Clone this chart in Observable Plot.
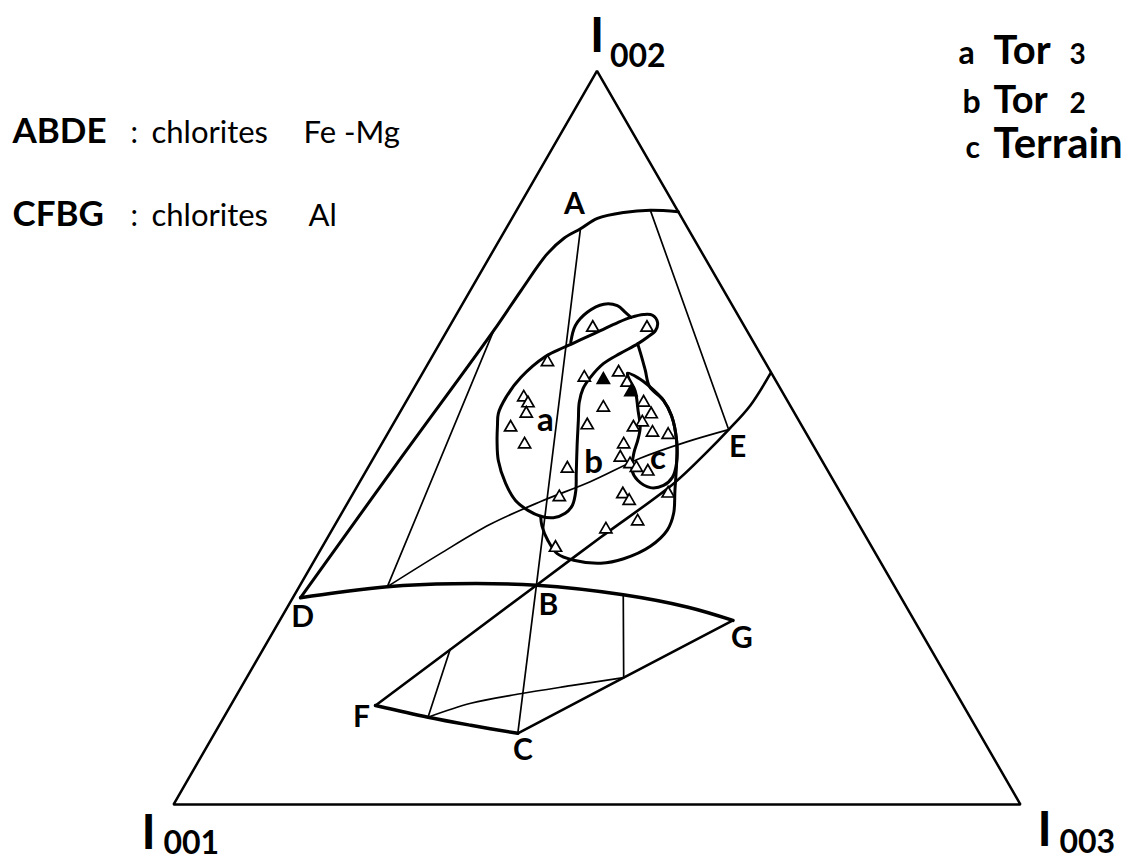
<!DOCTYPE html>
<html>
<head>
<meta charset="utf-8">
<script src="https://cdn.jsdelivr.net/npm/d3@7"></script>
<script src="https://cdn.jsdelivr.net/npm/@observablehq/plot@0.6"></script>
<style>
  body { margin: 0; background: #fff; }
  #chart svg { display: block; }
</style>
</head>
<body>
<div id="chart"></div>
<script>
// Ternary diagram I001 – I002 – I003 (percent). Each point is [I002, I003]; I001 = 100 - I002 - I003.

// ---- apices of the diagram
const apexNames = ["I001", "I002", "I003"];
const apexI002 = [0, 100, 0];
const apexI003 = [0, 0, 100];

// ---- named field points
const fieldPointNames = ["A", "B", "C", "D", "E", "F", "G"];
const fieldPointI002 = [78.5, 29.9, 9.7, 28.2, 51.1, 13.5, 25.1];
const fieldPointI003 = [8.8, 27.9, 35.8, 0.9, 40.0, 17.1, 53.5];

// ---- field boundaries (chlorites Fe-Mg : ABDE)
const curveDA = [[28.2,0.9],[46.2,3.1],[64.6,5.5],[70.1,6.0],[75.1,6.6],[77.2,7.5],[78.5,8.8],[79.9,10.1],[80.7,12.8],[81.0,15.8],[80.8,19.2]];
const curveDBG = [[28.2,0.9],[28.9,4.9],[29.7,10.4],[30.1,18.0],[29.9,27.9],[28.6,38.8],[26.9,47.3],[25.1,53.5]];
const curveBE = [[29.9,27.9],[36.4,32.2],[43.8,37.2],[47.9,38.9],[51.1,40.0],[54.4,40.9],[58.8,41.1]];
const curveDE = [[29.7,10.4],[34.2,14.4],[38.2,18.3],[41.3,22.7],[44.0,27.2],[47.2,31.5],[49.4,35.8],[51.1,40.0]];
const tieTopE = [[81.0,15.8],[51.1,40.0]];
const tieDADB = [[64.6,5.5],[29.7,10.4]];
const lineAB = [[78.5,8.8],[29.9,27.9]];
const lineBC = [[29.9,27.9],[9.7,35.8]];

// ---- field boundaries (chlorites Al : CFBG)
const lineFB = [[13.5,17.1],[21.1,22.1],[29.9,27.9]];
const curveFC = [[13.5,17.1],[11.9,24.1],[10.8,29.7],[9.7,35.8]];
const lineCG = [[9.7,35.8],[17.3,44.5],[25.1,53.5]];
const tieFBFC = [[21.1,22.1],[11.9,24.1]];
const curveInner = [[11.9,24.1],[13.8,28.2],[15.1,33.4],[16.2,38.8],[17.3,44.5]];
const tieDBGCG = [[28.6,38.8],[17.3,44.5]];

// ---- sample group envelopes
const contourA = [[53.3,11.7],[55.5,11.5],[58.2,11.9],[61.1,13.4],[62.3,14.9],[63.5,16.6],[64.6,18.1],[65.7,19.6],[66.4,20.8],[66.8,22.1],[66.7,23.2],[65.7,24.3],[64.6,24.6],[63.7,24.1],[62.8,23.4],[61.5,22.0],[60.1,20.7],[58.2,20.1],[56.7,20.0],[54.8,20.5],[52.4,21.6],[48.9,23.2],[45.1,25.0],[42.8,26.1],[40.8,26.7],[39.7,26.4],[39.1,25.3],[39.3,23.7],[40.1,21.8],[41.4,19.7],[43.8,17.3],[46.9,14.9],[49.6,13.4],[51.7,12.4]];
const contourBTop = [[63.0,15.4],[65.3,14.8],[67.1,15.3],[68.2,16.7],[68.0,18.4],[67.1,19.8],[66.4,20.8]];
const contourBSide = [[62.8,23.4],[61.1,24.7],[59.2,26.1],[57.0,27.7],[55.1,30.3],[53.0,32.3],[49.6,34.6],[46.6,36.1],[42.8,37.8],[39.7,39.2],[37.4,39.6],[35.2,38.7],[33.5,36.4],[32.9,34.0],[33.3,30.6],[34.2,28.2],[36.0,26.2],[38.0,24.5],[39.3,23.7]];
const contourC = [[58.8,24.2],[58.2,25.7],[57.0,27.7],[55.1,30.3],[53.0,32.3],[49.6,34.6],[46.6,36.1],[44.6,36.6],[43.5,36.1],[43.2,34.7],[44.2,32.7],[45.5,31.4],[47.9,30.4],[49.6,30.0],[51.4,29.4],[53.7,28.0],[56.4,26.3],[58.1,24.7]];

// ---- samples
const sampleI002 = [65.0,65.0,60.3,58.2,57.9,58.9,57.5,56.2,54.8,53.2,52.1,51.4,50.7,50.4,55.5,54.7,53.3,51.4,49.1,54.1,51.7,49.1,47.3,46.4,45.9,45.4,45.8,41.9,42.3,41.4,42.4,38.6,37.5,35.0];
const sampleI003 = [17.0,23.4,14.0,19.4,21.8,23.1,24.8,25.9,28.1,29.8,29.3,28.6,31.2,33.2,13.6,14.5,15.0,14.1,16.9,23.7,23.0,28.6,29.1,30.7,31.7,33.3,23.6,24.6,31.9,33.1,37.2,35.5,32.3,27.6];
const sampleSolid = [false,false,false,false,true,false,false,true,false,false,false,false,false,false,false,false,false,false,false,false,false,false,false,false,false,false,false,false,false,false,false,false,false,false];

// ---- group labels
const groupNames = ["a", "b", "c"];
const groupI002 = [52.4, 46.6, 47.2];
const groupI003 = [17.7, 26.3, 33.6];

// ---- legends
const legendKeys = ["a", "b", "c"];
const legendNames = ["Tor", "Tor", "Terrain"];
const legendNumbers = ["3", "2", ""];
const fieldCodes = ["ABDE", "CFBG"];
const fieldWords = ["chlorites", "chlorites"];
const fieldKinds = ["Fe -Mg", "Al"];

// ================= layout =================
const W = 1142, H = 860;
const K = 847;              // px per unit side of triangle
const OX = 173, OY = 804;   // position of the I001 apex
const FONT = "Lato, 'Open Sans', 'DejaVu Sans', sans-serif";
const S3 = Math.sqrt(3) / 2;

const toXY = ([i002, i003]) => ({ x: (i003 + i002 / 2) / 100, y: (i002 / 100) * S3 });
const path = (pts) => pts.map(toXY);

const lineMark = (pts, w, curve = "catmull-rom") =>
  Plot.line(path(pts), { x: "x", y: "y", stroke: "black", strokeWidth: w, curve, strokeLinejoin: "round", strokeLinecap: "round" });

const apices = apexNames.map((n, i) => ({ name: n, ...toXY([apexI002[i], apexI003[i]]) }));
const fieldPts = fieldPointNames.map((n, i) => ({ name: n, ...toXY([fieldPointI002[i], fieldPointI003[i]]) }));
const samples = sampleI002.map((b, i) => ({ solid: sampleSolid[i], ...toXY([b, sampleI003[i]]) }));
const groups = groupNames.map((n, i) => ({ name: n, ...toXY([groupI002[i], groupI003[i]]) }));

const fieldLabelOffset = { A: [-6, -24], B: [12, 20], C: [5, 17], D: [2, 20], E: [9, 18], F: [-14, 12], G: [9, 18] };
// apex label placement: [I dx, I dy(baseline), digits dx, digits dy(baseline)]
const apexLabelOffset = { I001: [-25, 44, -10, 49], I002: [0, -19, 13, -4], I003: [24, 41, 39, 48] };

const marks = [];

// triangle frame
marks.push(Plot.line(apices, { x: "x", y: "y", curve: "linear-closed", stroke: "black", strokeWidth: 2.5, strokeLinejoin: "miter" }));

// Fe-Mg field
marks.push(lineMark(curveDA, 3));
marks.push(lineMark(curveDBG, 3.5));
marks.push(lineMark(curveBE, 2.6));
marks.push(lineMark(curveDE, 1.7));
marks.push(lineMark(tieTopE, 1.7, "linear"));
marks.push(lineMark(tieDADB, 1.7, "linear"));
marks.push(lineMark(lineAB, 1.7, "linear"));
marks.push(lineMark(lineBC, 1.7, "linear"));

// Al field
marks.push(lineMark(lineFB, 2.6, "linear"));
marks.push(lineMark(curveFC, 3.5));
marks.push(lineMark(lineCG, 2.6, "linear"));
marks.push(lineMark(tieFBFC, 1.7, "linear"));
marks.push(lineMark(curveInner, 1.7));
marks.push(lineMark(tieDBGCG, 1.7, "linear"));

// envelopes
marks.push(lineMark(contourA, 3, "catmull-rom-closed"));
marks.push(lineMark(contourBTop, 3));
marks.push(lineMark(contourBSide, 3));
marks.push(lineMark(contourC, 3, "catmull-rom-closed"));

// samples
marks.push(Plot.dot(samples.filter(d => !d.solid), { x: "x", y: "y", symbol: "triangle", r: 4.5, stroke: "black", strokeWidth: 1.7, fill: "white" }));
marks.push(Plot.dot(samples.filter(d => d.solid), { x: "x", y: "y", symbol: "triangle", r: 4.5, stroke: "black", strokeWidth: 1.7, fill: "black" }));

// group labels
marks.push(Plot.text(groups, { x: "x", y: "y", text: "name", fontSize: 33, fontWeight: "bold", fontFamily: FONT, fill: "black" }));

// field point labels
for (const p of fieldPts) {
  const [dx, dy] = fieldLabelOffset[p.name];
  marks.push(Plot.text([p], { x: "x", y: "y", text: "name", dx, dy, fontSize: 30, fontWeight: "bold", fontFamily: FONT, fill: "black" }));
}

// apex labels : I with subscript digits
for (const a of apices) {
  const [idx, idy, ddx, ddy] = apexLabelOffset[a.name];
  marks.push(Plot.text([a], { x: "x", y: "y", text: d => d.name.slice(0, 1), dx: idx, dy: idy, lineAnchor: "bottom", fontSize: 48, fontWeight: "bold", fontFamily: FONT, fill: "black" }));
  marks.push(Plot.text([a], { x: "x", y: "y", text: d => d.name.slice(1), dx: ddx, dy: ddy, textAnchor: "start", lineAnchor: "bottom", fontSize: 32, fontWeight: "bold", fontFamily: FONT, fill: "black", letterSpacing: 4 }));
}

// field legend (top left)
const fieldRowBaseline = [142, 225];
fieldCodes.forEach((code, i) => {
  const base = fieldRowBaseline[i];
  const t = (txt, dx, opts) => Plot.text([txt], { frameAnchor: "top-left", text: d => d, dx, dy: base, textAnchor: "start", lineAnchor: "bottom", fontFamily: FONT, fill: "black", ...opts });
  marks.push(t(code, 12, { fontSize: 35, fontWeight: "bold", letterSpacing: 2 }));
  marks.push(t(":", 130, { fontSize: 30 }));
  marks.push(t(fieldWords[i], 151, { fontSize: 31 }));
  marks.push(t(fieldKinds[i], i === 0 ? 303 : 308, { fontSize: 31 }));
});

// sample legend (top right)
const legendBaseline = [63, 112, 157];
const legendNameSize = [40, 38, 42];
legendKeys.forEach((k, i) => {
  const base = legendBaseline[i];
  const t = (txt, dx, opts) => Plot.text([txt], { frameAnchor: "top-left", text: d => d, dx, dy: base, textAnchor: "start", lineAnchor: "bottom", fontFamily: FONT, fontWeight: "bold", fill: "black", ...opts });
  marks.push(t(k, [958, 962, 965][i], { fontSize: k === "c" ? 30 : 32 }));
  marks.push(t(legendNames[i], 993, { fontSize: legendNameSize[i] }));
  if (legendNumbers[i]) marks.push(t(legendNumbers[i], 1069, { fontSize: 28 }));
});

const chart = Plot.plot({
  width: W,
  height: H,
  marginTop: 0, marginRight: 0, marginBottom: 0, marginLeft: 0,
  x: { domain: [-OX / K, (W - OX) / K], axis: null },
  y: { domain: [-(H - OY) / K, OY / K], axis: null },
  style: { background: "white", fontFamily: FONT, overflow: "visible" },
  marks
});
document.getElementById("chart").append(chart);
</script>
</body>
</html>
